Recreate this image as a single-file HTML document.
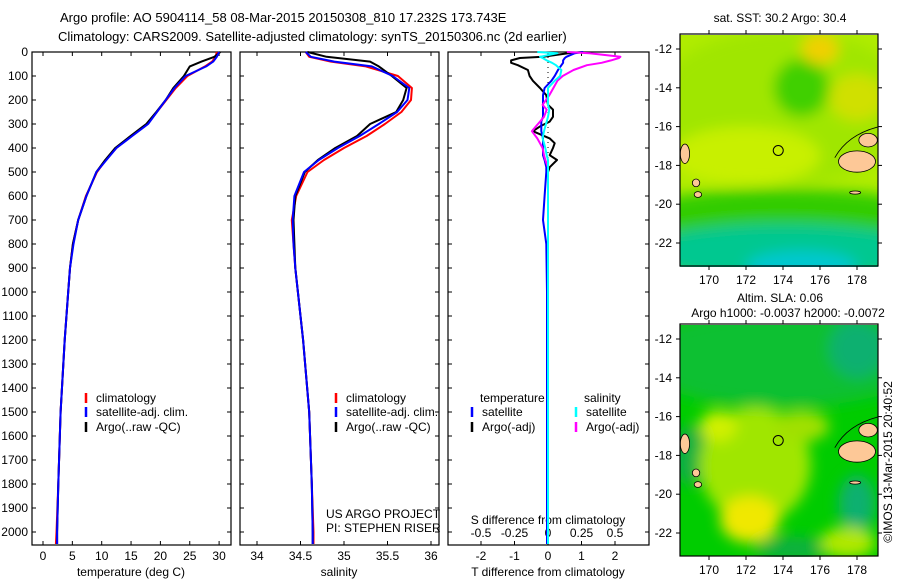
<!DOCTYPE html>
<html><head><meta charset="utf-8">
<style>
body{margin:0;background:#fff;}
svg{display:block;font-family:"Liberation Sans",sans-serif;}
text{fill:#000;}
</style></head>
<body>
<svg id="fig" width="900" height="580" viewBox="0 0 900 580">
<defs>
<filter id="blur6"><feGaussianBlur stdDeviation="7"/></filter>
<filter id="blur2"><feGaussianBlur stdDeviation="2"/></filter>
<clipPath id="clipTop"><rect x="680" y="35" width="198" height="232"/></clipPath>
<clipPath id="clipBot"><rect x="680" y="325" width="198" height="232"/></clipPath>
</defs>
<text x="60" y="22" font-size="13">Argo profile: AO 5904114_58 08-Mar-2015 20150308_810 17.232S 173.743E</text>
<text x="58" y="41" font-size="13">Climatology: CARS2009. Satellite-adjusted climatology: synTS_20150306.nc (2d earlier)</text>
<g id="g1"></g>
<g id="g2"></g>
<g id="g3"></g>
<g id="m1"></g>
<g id="m2"></g>
<text transform="translate(892,462) rotate(-90)" text-anchor="middle" font-size="12">©IMOS 13-Mar-2015 20:40:52</text>
</svg>
<script>
const NS="http://www.w3.org/2000/svg";
function mk(p,tag,at,txt){const e=document.createElementNS(NS,tag);for(const k in at)e.setAttribute(k,at[k]);if(txt!==undefined)e.textContent=txt;p.appendChild(e);return e;}

// ---- data ----
const depths=[0,20,40,60,100,150,200,250,300,350,400,450,500,600,700,800,900,1000,1200,1500,1800,2000,2050];
const tempClim=[29.6,29.4,28.8,27.6,24.6,22.6,21.0,19.4,17.8,15.0,12.5,10.7,9.2,7.3,6.0,5.1,4.6,4.3,3.7,3.0,2.6,2.3,2.2];
const tempSat=[30.0,29.6,29.0,27.8,24.3,22.4,20.9,19.4,17.9,15.2,12.5,10.8,9.1,7.4,6.0,5.2,4.6,4.3,3.7,3.0,2.6,2.4,2.4];
const tempArgo=[30.2,29.2,27.0,25.0,24.0,22.2,20.9,19.3,17.6,14.9,12.3,10.6,9.1,7.4,6.0,5.1,4.6,4.3,3.7,3.0,2.6,2.4,2.4];
const salClim=[34.56,34.60,34.85,35.25,35.62,35.78,35.77,35.66,35.47,35.26,35.0,34.77,34.58,34.45,34.40,34.42,34.44,34.47,34.53,34.60,34.63,34.65,34.65];
const salSat=[34.56,34.62,34.89,35.32,35.56,35.75,35.73,35.61,35.40,35.18,34.93,34.71,34.54,34.43,34.41,34.42,34.44,34.47,34.53,34.60,34.63,34.64,34.64];
const salArgo=[34.58,34.80,35.30,35.40,35.55,35.72,35.68,35.60,35.30,35.15,34.90,34.70,34.55,34.44,34.42,34.43,34.44,34.47,34.53,34.60,34.63,34.64,34.64];
const dDepth=[0,5,20,25,35,45,55,75,100,120,150,180,220,240,270,290,310,330,360,380,400,430,450,480,500,600,700,800,1000,1500,2000,2050];
const dTsat=[1.05,0.8,0.55,0.5,0.45,0.45,0.4,0.3,0.2,0.1,-0.1,-0.15,-0.15,-0.15,-0.15,-0.2,-0.2,-0.2,-0.15,-0.15,-0.15,-0.15,-0.1,-0.05,-0.05,-0.1,-0.15,-0.05,-0.03,-0.03,-0.03,-0.03];
const dTargo=[1.05,0.6,-0.15,-0.84,-1.1,-1.1,-0.9,-0.6,-0.55,-0.45,-0.24,-0.05,0.0,0.15,0.15,0.05,-0.24,-0.45,0.05,0.2,0.15,0.05,0.27,0.05,0.0,0.0,0.0,0.0,0.0,0.0,0.0,0.0];
const dSsat=[-0.08,0.07,-0.06,-0.04,-0.01,0.03,0.06,0.1,0.09,0.05,0.0,0.0,0.0,0.01,0.0,-0.01,-0.02,-0.03,-0.04,-0.03,-0.02,-0.01,0.0,0.0,0.0,0.0,0.0,0.0,0.0,0.0,0.0,0.0];
const dSargo=[0.14,0.31,0.54,0.53,0.47,0.4,0.29,0.19,0.11,0.07,0.04,0.01,-0.04,-0.01,-0.03,-0.06,-0.09,-0.12,-0.08,-0.06,-0.04,-0.03,-0.02,0.0,0.0,0.0,0.0,0.0,0.0,0.0,0.0,0.0];
const depthTicks=[0,100,200,300,400,500,600,700,800,900,1000,1100,1200,1300,1400,1500,1600,1700,1800,1900,2000];
const tempTicks=[0,5,10,15,20,25,30];
const salTicks=[34,34.5,35,35.5,36];
const tdTicks=[-2,-1,0,1,2];
const sdTicks=[-0.5,-0.25,0,0.25,0.5];
const lonTicks=[170,172,174,176,178];
const latTicks=[-12,-14,-16,-18,-20,-22];
const argoLon=173.743, argoLat=-17.232;

// ---- axes ----
const yD=d=>52+0.24*d;
const TOP=52,BOT=545;
const xT=t=>43+5.87*t;
const xS=s=>257+87*(s-34);
const xDT=v=>548+33.5*v;
const xDS=v=>548+134*v;

function frame(g,x0,x1,name){
  mk(g,'rect',{x:x0,y:TOP,width:x1-x0,height:BOT-TOP,fill:'none',stroke:'#000','stroke-width':1.2,});
}
function yTicks(g,x0,x1,labels){
  depthTicks.forEach(d=>{
    const y=yD(d);
    mk(g,'line',{x1:x0,y1:y,x2:x0+4,y2:y,stroke:'#000'});
    mk(g,'line',{x1:x1-4,y1:y,x2:x1,y2:y,stroke:'#000'});
    if(labels){const t=mk(g,'text',{x:x0-4,y:y+4,'text-anchor':'end','font-size':12},String(d));
      }
  });
}
function xTicks(g,ticks,fx,ly,fmt){
  ticks.forEach(v=>{const x=fx(v);
    mk(g,'line',{x1:x,y1:BOT,x2:x,y2:BOT-4,stroke:'#000'});
    mk(g,'line',{x1:x,y1:TOP,x2:x,y2:TOP+4,stroke:'#000'});
    const t=mk(g,'text',{x:x,y:ly,'text-anchor':'middle','font-size':12},fmt?fmt(v):String(v));
    
  });
}
function line(g,xs,ds,fx,color,name,w){
  const pts=xs.map((v,i)=>fx(v).toFixed(1)+','+yD(ds[i]).toFixed(1)).join(' ');
  const p=mk(g,'polyline',{points:pts,fill:'none',stroke:color,'stroke-width':w||2,'stroke-linejoin':'round'});
  
}
function legend(g,x,y,color,label){
  mk(g,'line',{x1:x,y1:y-9,x2:x,y2:y+1,stroke:color,'stroke-width':2.5});
  const t=mk(g,'text',{x:x+10,y:y,'font-size':12},label);
  
}

// panel 1
const g1=document.getElementById('g1');
frame(g1,32,231,'temperature-axes');yTicks(g1,32,231,true);xTicks(g1,tempTicks,xT,560);
mk(g1,'text',{x:131,y:576,'text-anchor':'middle','font-size':12,},'temperature (deg C)');
line(g1,tempClim,depths,xT,'#f00','climatology-line');
line(g1,tempArgo,depths,xT,'#000','argo-line');
line(g1,tempSat,depths,xT,'#00f','satellite-line');
legend(g1,86,402,'#f00','climatology');legend(g1,86,416,'#00f','satellite-adj. clim.');legend(g1,86,431,'#000','Argo(..raw -QC)');

// panel 2
const g2=document.getElementById('g2');
frame(g2,240,439,'salinity-axes');yTicks(g2,240,439,false);xTicks(g2,salTicks,xS,560);
mk(g2,'text',{x:339,y:576,'text-anchor':'middle','font-size':12,},'salinity');
line(g2,salClim,depths,xS,'#f00','climatology-line');
line(g2,salArgo,depths,xS,'#000','argo-line');
line(g2,salSat,depths,xS,'#00f','satellite-line');
legend(g2,336,402,'#f00','climatology');legend(g2,336,416,'#00f','satellite-adj. clim.');legend(g2,336,431,'#000','Argo(..raw -QC)');
mk(g2,'text',{x:326,y:518,'font-size':12,},'US ARGO PROJECT');
mk(g2,'text',{x:326,y:532,'font-size':12,},'PI: STEPHEN RISER');

// panel 3
const g3=document.getElementById('g3');
frame(g3,448,649,'difference-axes');yTicks(g3,448,649,false);xTicks(g3,tdTicks,xDT,560);
sdTicks.forEach(v=>{const t=mk(g3,'text',{x:xDS(v),y:537,'text-anchor':'middle','font-size':12},String(v).replace('0.','.').replace('-.','-0.').replace(/^\./,'0.'));
  });
mk(g3,'text',{x:548,y:524,'text-anchor':'middle','font-size':12,},'S difference from climatology');
mk(g3,'text',{x:548,y:576,'text-anchor':'middle','font-size':12,},'T difference from climatology');
mk(g3,'line',{x1:xDT(0),y1:TOP,x2:xDT(0),y2:BOT,stroke:'#000','stroke-dasharray':'1,4',});
line(g3,dTargo,dDepth,xDT,'#000','t-diff-argo');
line(g3,dTsat,dDepth,xDT,'#00f','t-diff-satellite');
line(g3,dSargo,dDepth,xDS,'#f0f','s-diff-argo');
line(g3,dSsat,dDepth,xDS,'#0ff','s-diff-satellite');
mk(g3,'text',{x:480,y:402,'font-size':12,},'temperature');
mk(g3,'text',{x:584,y:402,'font-size':12,},'salinity');
legend(g3,472,416,'#00f','satellite');legend(g3,472,431,'#000','Argo(-adj)');
legend(g3,576,416,'#0ff','satellite');legend(g3,576,431,'#f0f','Argo(-adj)');

// maps
const xL=lon=>709+(lon-170)*18.5;
function drawMap(id,y0,clip,blobs,base){
  const g=document.getElementById(id);
  const yL=lat=>y0+15+(-12-lat)*19.4;
  const inner=mk(g,'g',{'clip-path':'url(#'+clip+')'});
  mk(inner,'rect',{x:680,y:y0,width:198,height:232,fill:base});
  const bg=mk(inner,'g',{filter:'url(#blur6)'});
  blobs.forEach(b=>mk(bg,'ellipse',{cx:xL(b[0]),cy:yL(b[1]),rx:b[2]*18.5,ry:b[3]*19.4,fill:b[4]}));
  // land
  const land=[[178.0,-17.8,1.0,0.55],[178.6,-16.7,0.5,0.35],[169.3,-18.9,0.2,0.2],[169.4,-19.5,0.2,0.15],[168.7,-17.4,0.25,0.5],[177.9,-19.4,0.3,0.08]];
  land.forEach(l=>mk(inner,'ellipse',{cx:xL(l[0]),cy:yL(l[1]),rx:l[2]*18.5,ry:l[3]*19.4,fill:'#fdc897',stroke:'#000','stroke-width':0.8,}));
  mk(inner,'path',{d:`M${xL(176.8)} ${yL(-17.6)} Q${xL(177.5)} ${yL(-16.4)} ${xL(179.2)} ${yL(-16.0)}`,fill:'none',stroke:'#000','stroke-width':0.8});
  mk(g,'rect',{x:680,y:y0,width:198,height:232,fill:'none',stroke:'#000','stroke-width':1.2,});
  lonTicks.forEach(v=>{const x=xL(v);mk(g,'line',{x1:x,y1:y0,x2:x,y2:y0-4,stroke:'#000'});mk(g,'line',{x1:x,y1:y0+232,x2:x,y2:y0+236,stroke:'#000'});
    const t=mk(g,'text',{x:x,y:y0+250,'text-anchor':'middle','font-size':12},String(v));});
  latTicks.forEach(v=>{const y=yL(v);mk(g,'line',{x1:680,y1:y,x2:676,y2:y,stroke:'#000'});mk(g,'line',{x1:878,y1:y,x2:882,y2:y,stroke:'#000'});
    const t=mk(g,'text',{x:672,y:y+4,'text-anchor':'end','font-size':12},String(v));});
  mk(g,'circle',{cx:xL(argoLon),cy:yL(argoLat),r:5,fill:'none',stroke:'#000','stroke-width':1,});
}
drawMap('m1',34,'clipTop',[
 [174,-15,7,4,'#a0e600'],[172,-17.5,4,1.5,'#c8f000'],[175,-14,1.5,1.5,'#40d000'],[176,-12,1,0.8,'#f0d000'],
 [178,-14.5,1.5,1.2,'#d0e000'],[174,-20.5,8,1.3,'#30cc00'],[174,-22.5,8,1.5,'#00c890'],[175,-23.2,3,0.8,'#00c8d0']
],'#b0ec00');
mk(document.getElementById('m1'),'text',{x:780,y:22,'text-anchor':'middle','font-size':12,},'sat. SST: 30.2 Argo: 30.4');
drawMap('m2',324,'clipBot',[
 [174,-13,8,2.5,'#10c030'],[178,-12.5,1.5,1.5,'#10b070'],[178,-20.5,1,1.5,'#10b070'],[169,-18,1.2,1.5,'#10b040'],
 [172.5,-18.5,3,3,'#a0e600'],[170.5,-16.5,1,0.8,'#d0f000'],[172.2,-21.3,1.6,1.2,'#f0e800'],[175,-16.5,1.5,0.8,'#a0e000'],
 [174.5,-22.8,2,0.6,'#10b040'],[177.5,-22.5,1.5,0.8,'#b0e800']
],'#00cc00');
mk(document.getElementById('m2'),'text',{x:780,y:302,'text-anchor':'middle','font-size':12,},'Altim. SLA: 0.06');
mk(document.getElementById('m2'),'text',{x:788,y:317,'text-anchor':'middle','font-size':12,},'Argo h1000: -0.0037 h2000: -0.0072');
</script>
</body></html>
